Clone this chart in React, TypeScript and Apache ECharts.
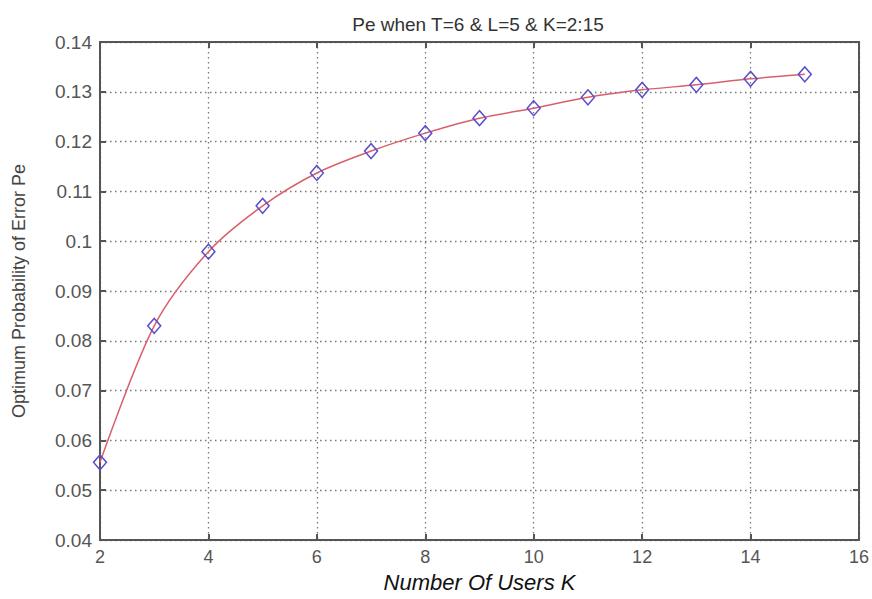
import React, { useEffect, useRef } from "react";
import * as echarts from "echarts";

const titleText = "Pe when T=6 & L=5 & K=2:15";
const xAxisName = "Number Of Users K";
const yAxisName = "Optimum Probability of Error Pe";
const usersK = [2, 3, 4, 5, 6, 7, 8, 9, 10, 11, 12, 13, 14, 15];
const peValues = [0.0556, 0.083, 0.0979, 0.1071, 0.1137, 0.1181, 0.1217, 0.1247, 0.1267, 0.1289, 0.1304, 0.1314, 0.1326, 0.1335];

export default function App() {
  const ref = useRef<HTMLDivElement>(null);
  useEffect(() => {
    if (!ref.current) return;
    const chart = echarts.init(ref.current, undefined, { renderer: "svg" });
    const axisLine = { show: true, lineStyle: { color: "#555", width: 2 } };
    const tick = { show: true, inside: true, length: 6, lineStyle: { color: "#555", width: 2 } };
    const grid = { type: [1.5, 3.5] as number[], color: "#777", width: 1.3 };
    chart.setOption({
      animation: false,
      backgroundColor: "#fff",
      textStyle: { fontFamily: "Liberation Sans, Arial, sans-serif" },
      title: {
        text: titleText,
        left: 473,
        top: 10,
        textAlign: "center",
        textStyle: { fontSize: 19, fontWeight: "normal", color: "#333" },
      },
      grid: { left: 100, right: 13, top: 42, bottom: 59 },
      xAxis: [
        {
          type: "value",
          min: 2,
          max: 16,
          interval: 2,
          name: xAxisName,
          nameLocation: "middle",
          nameGap: 31,
          nameTextStyle: { fontSize: 22, fontStyle: "italic", color: "#111" },
          axisLine,
          axisTick: tick,
          axisLabel: { fontSize: 18, color: "#555", margin: 8 },
          splitLine: { show: true, lineStyle: grid },
        },
        {
          type: "value",
          position: "top",
          min: 2,
          max: 16,
          interval: 2,
          axisLine,
          axisTick: tick,
          axisLabel: { show: false },
          splitLine: { show: false },
        },
      ],
      yAxis: [
        {
          type: "value",
          min: 0.04,
          max: 0.14,
          interval: 0.01,
          name: yAxisName,
          nameLocation: "middle",
          nameGap: 72,
          nameTextStyle: { fontSize: 18, color: "#444", fontFamily: "Liberation Sans Narrow, Liberation Sans, Arial, sans-serif" },
          axisLine,
          axisTick: tick,
          axisLabel: {
            fontSize: 19,
            color: "#555",
            margin: 8,
            formatter: (v: number) => String(parseFloat(v.toFixed(2))),
          },
          splitLine: { show: true, lineStyle: grid },
        },
        {
          type: "value",
          position: "right",
          min: 0.04,
          max: 0.14,
          interval: 0.01,
          axisLine,
          axisTick: tick,
          axisLabel: { show: false },
          splitLine: { show: false },
        },
      ],
      series: [
        {
          type: "line",
          data: usersK.map((k, i) => [k, peValues[i]]),
          smooth: 0.3,
          lineStyle: { color: "#d9606a", width: 1.5 },
          symbol: "diamond",
          symbolSize: [13, 15],
          itemStyle: { color: "rgba(255,255,255,0)", borderColor: "#5a4fc8", borderWidth: 1.5 },
        },
      ],
    });
    return () => chart.dispose();
  }, []);
  return <div ref={ref} style={{ width: 872, height: 599, position: "absolute", left: 0, top: 0 }} />;
}
